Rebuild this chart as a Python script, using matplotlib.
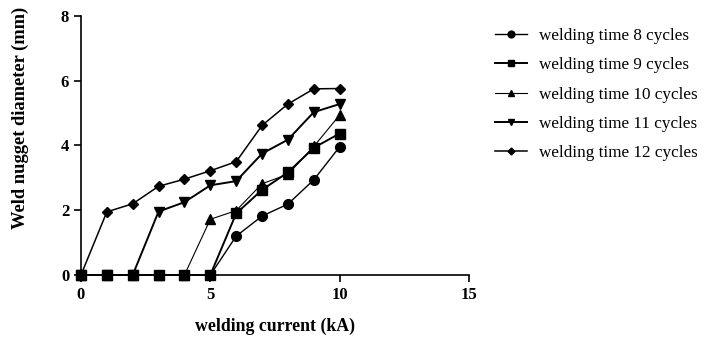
import matplotlib
matplotlib.use('Agg')
import matplotlib.pyplot as plt

plt.rcParams['font.family'] = ['Liberation Serif', 'DejaVu Serif']

current = [0, 1, 2, 3, 4, 5, 6, 7, 8, 9, 10]
t8 = [0, 0, 0, 0, 0, 0, 1.2, 1.82, 2.19, 2.94, 3.96]
t9 = [0, 0, 0, 0, 0, 0, 1.9, 2.63, 3.17, 3.93, 4.37]
t10 = [0, 0, 0, 0, 0, 1.72, 1.99, 2.82, 3.11, 3.97, 4.94]
t11 = [0, 0, 0, 1.96, 2.25, 2.77, 2.9, 3.75, 4.18, 5.03, 5.28]
t12 = [0, 1.95, 2.2, 2.74, 2.96, 3.22, 3.5, 4.62, 5.28, 5.75, 5.76]
labels = ['welding time 8 cycles', 'welding time 9 cycles', 'welding time 10 cycles',
          'welding time 11 cycles', 'welding time 12 cycles']

fig = plt.figure(figsize=(7.09, 3.39), dpi=100)
ax = fig.add_axes([0.1142, 0.1888, 0.5473, 0.764])

series = [t8, t9, t10, t11, t12]
markers = ['o', 's', '^', 'v', 'D']
msizes = [7, 7, 7, 7, 5]
lws = [1.0, 1.4, 0.8, 1.4, 1.1]
for y, m, ms, lw, lab in zip(series, markers, msizes, lws, labels):
    ax.plot(current, y, color='black', marker=m, markersize=ms, linewidth=lw,
            label=lab, clip_on=False, zorder=3)

ax.set_xlim(0, 15)
ax.set_ylim(0, 8)
ax.set_xticks([0, 5, 10, 15])
ax.set_yticks([0, 2, 4, 6, 8])
for s in ['top', 'right']:
    ax.spines[s].set_visible(False)
for s in ['left', 'bottom']:
    ax.spines[s].set_linewidth(1.2)
ax.tick_params(direction='out', length=5, width=1.2, labelsize=12)
for t in ax.get_xticklabels() + ax.get_yticklabels():
    t.set_fontweight('bold')

ax.set_xlabel('welding current (kA)', fontsize=12.8, fontweight='bold', labelpad=11)
ax.set_ylabel('Weld nugget diameter (mm)', fontsize=13.3, fontweight='bold')
ax.yaxis.set_label_coords(-0.134, 0.606)

ax.legend(loc='upper left', bbox_to_anchor=(1.05, 0.98), frameon=False, fontsize=12.3,
          handlelength=1.85, labelspacing=0.78, handletextpad=0.7, borderaxespad=0,
          markerscale=0.7)

fig.savefig('out.png', dpi=100)
